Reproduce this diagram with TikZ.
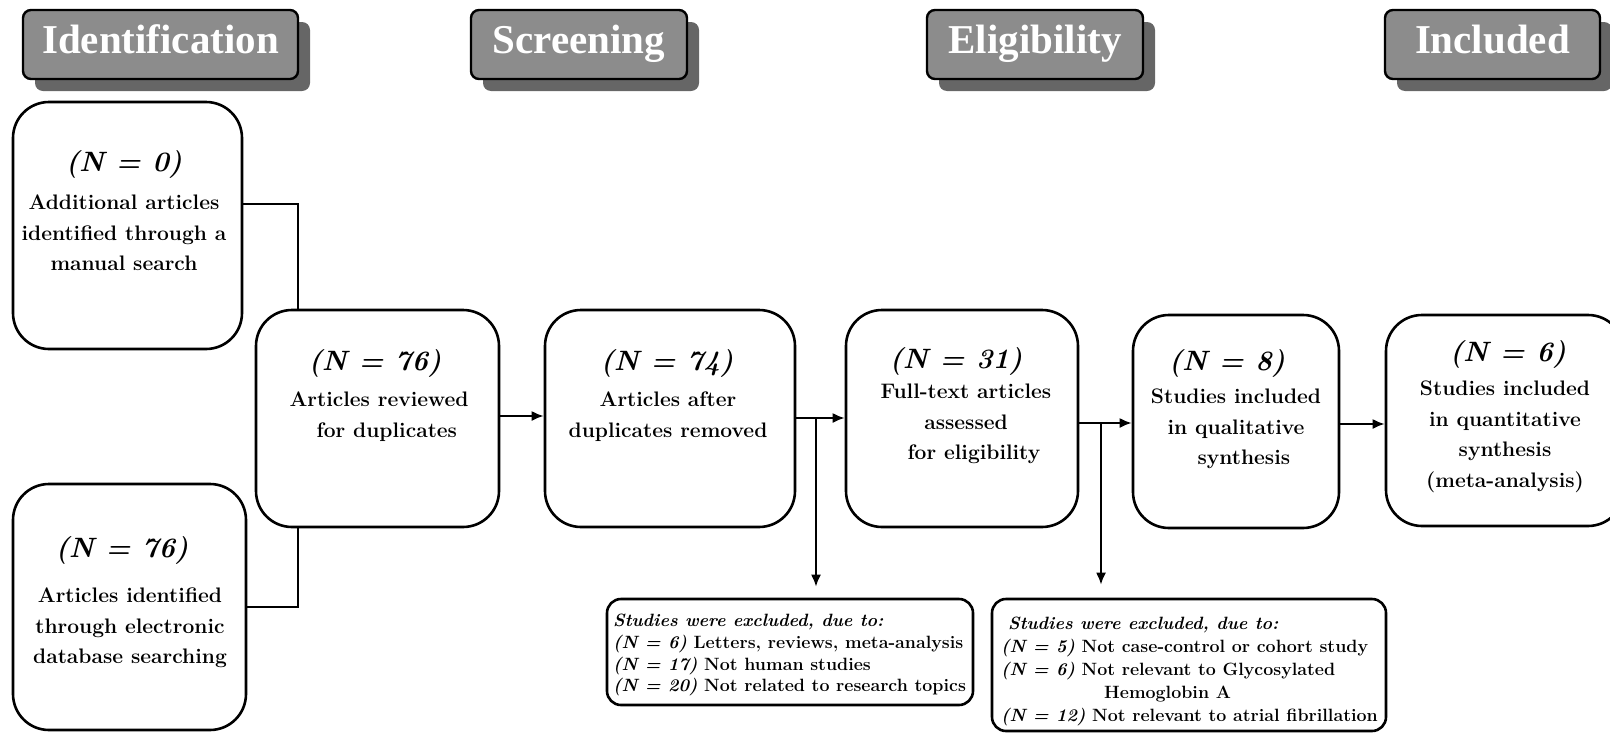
\documentclass[tikz,border=0pt]{standalone}
\usepackage{fontspec}
\newfontfamily\hdrfont{Liberation Serif}
\usetikzlibrary{arrows.meta,shadows}
\definecolor{hdrgray}{HTML}{8C8C8C}
\definecolor{shdgray}{HTML}{666666}
\newcommand{\myBody}{\bfseries\fontsize{21}{30.5}\selectfont\addfontfeature{FakeBold=1.6}}
\newcommand{\myN}{\bfseries\itshape\fontsize{28}{32}\selectfont\addfontfeature{FakeBold=1.6}}
\newcommand{\myEx}{\bfseries\fontsize{17.8}{21.7}\selectfont\addfontfeature{FakeBold=1.4}}
\begin{document}
\begin{tikzpicture}[x=1pt,y=-1pt,
  box/.style={draw=black, line width=2.6pt, rounded corners=36pt, fill=white, inner sep=0pt},
  exbox/.style={draw=black, line width=2.6pt, rounded corners=14pt, fill=white, inner sep=0pt},
  hdr/.style={draw=black, line width=2.4pt, rounded corners=8pt, fill=hdrgray, text=white,
    font=\hdrfont\bfseries\fontsize{41}{45}\selectfont, minimum height=69pt, inner sep=0pt,
    text height=27pt, text depth=10pt,
    drop shadow={shadow xshift=12pt, shadow yshift=-12pt, fill=shdgray, opacity=1, draw=none}},
  ntext/.style={anchor=base, inner sep=0pt, font=\myN},
  dtext/.style={anchor=north, inner sep=0pt, align=center, font=\myBody},
  extext/.style={anchor=north west, inner sep=0pt, align=left, font=\myEx},
  conn/.style={line width=2pt},
  arr/.style={line width=2pt, -{Latex[length=12pt,width=10pt]}}
]
\useasboundingbox (0,0) rectangle (1610,734);

% headers
\node[hdr, minimum width=275pt] (h1) at (160.5,44.5) {Identification};
\node[hdr, minimum width=216pt] (h2) at (579,44.5) {Screening};
\node[hdr, minimum width=216pt] (h3) at (1035,44.5) {Eligibility};
\node[hdr, minimum width=215pt] (h4) at (1492.5,44.5) {Included};

% boxes
\node[box, minimum width=229pt, minimum height=247pt] (A) at (127.5,225.5) {};
\node[box, minimum width=233pt, minimum height=246pt] (B) at (129.5,607) {};
\node[box, minimum width=243pt, minimum height=217pt] (C) at (377.5,418.5) {};
\node[box, minimum width=250pt, minimum height=217pt] (D) at (670,418.5) {};
\node[box, minimum width=232pt, minimum height=217pt] (E) at (962,418.5) {};
\node[box, minimum width=206pt, minimum height=213pt] (F) at (1236,421.5) {};
\node[box, minimum width=238pt, minimum height=211pt] (G) at (1505,420.5) {};
\node[exbox, minimum width=366pt, minimum height=106pt] (H) at (790,652) {};
\node[exbox, minimum width=394pt, minimum height=132pt] (I) at (1189,665) {};

% texts
\node[ntext] (An) at (124,171) {(N = 0)};
\node[dtext] (Ad) at (124,195) {Additional articles\\identified through a\\manual search};
\node[ntext] (Bn) at (122,557) {(N = 76)};
\node[dtext] (Bd) at (130,588) {Articles identified\\through electronic\\database searching};
\node[ntext] (Cn) at (375,370) {(N = 76)};
\node[dtext] (Cd) at (379,392) {Articles reviewed\\\ \ for duplicates};
\node[ntext] (Dn) at (667,370) {(N = 74)};
\node[dtext] (Dd) at (668,392) {Articles after\\duplicates removed};
\node[ntext] (En) at (956,368) {(N = 31)};
\node[dtext] (Ed) at (966,384) {Full-text articles\\assessed\\\ \ for eligibility};
\node[ntext] (Fn) at (1227,370) {(N = 8)};
\node[dtext] (Fd) at (1236,389) {Studies included\\in qualitative\\\ \ synthesis};
\node[ntext] (Gn) at (1508,361) {(N = 6)};
\node[dtext] (Gd) at (1505,381) {Studies included\\in quantitative\\synthesis\\(meta-analysis)};

\node[extext] (Ht) at (613,614) {\textit{Studies were excluded, due to:}\\
\textit{(N = 6)} Letters, reviews, meta-analysis\\
\textit{(N = 17)} Not human studies\\
\textit{(N = 20)} Not related to research topics};
\node[extext, font=\bfseries\fontsize{17.8}{22.9}\selectfont\addfontfeature{FakeBold=1.4}] (It) at (1001,617) {\hspace{7pt}\textit{Studies were excluded, due to:}\\
\textit{(N = 5)} Not case-control or cohort study\\
\textit{(N = 6)} Not relevant to Glycosylated\\
\hspace{103pt}Hemoglobin A\\
\textit{(N = 12)} Not relevant to atrial fibrillation};

% connectors
\coordinate (jA) at (298,204);
\coordinate (jB) at (298,607);
\draw[conn] (A.east |- jA) -- (jA) -- (jA |- C.north);
\draw[conn] (B.east |- jB) -- (jB) -- (jB |- C.south);
\coordinate (yCD) at (0,416);
\draw[arr] (C.east |- yCD) -- (D.west |- yCD);
\coordinate (bD) at (816,418);
\draw[arr] (D.east |- bD) -- (E.west |- bD);
\draw[arr, shorten >=11pt] (bD) -- (bD |- H.north);
\coordinate (bE) at (1101,423);
\draw[arr] (E.east |- bE) -- (F.west |- bE);
\draw[arr, shorten >=13pt] (bE) -- (bE |- I.north);
\coordinate (yFG) at (0,424);
\draw[arr] (F.east |- yFG) -- (G.west |- yFG);
\end{tikzpicture}
\end{document}
